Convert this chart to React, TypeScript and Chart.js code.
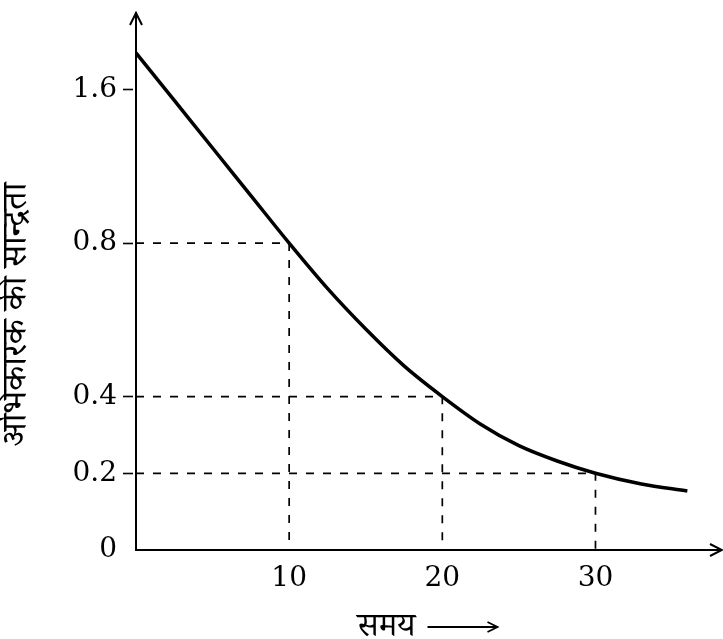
import React, { useEffect, useRef } from 'react';
import { Chart, registerables } from 'chart.js';

Chart.register(...registerables);

// time (x) values and reactant concentration (in y-axis units; labels below)
const timeValues = [0, 2.5, 5, 7.5, 10, 12.5, 15, 17.5, 20, 22.5, 25, 27.5, 30, 33, 36];
const concentrationLevels = [6.48, 5.86, 5.24, 4.62, 4.0, 3.41, 2.88, 2.4, 2.0, 1.64, 1.36, 1.16, 1.0, 0.86, 0.77];

// dashed guide marks
const markTimes = [10, 20, 30];
const markLevels = [4, 2, 1];

// ticks
const xTickValues = [10, 20, 30];
const yTickPositions = [0, 1, 2, 4, 6];
const yTickLabels = ['0', '0.2', '0.4', '0.8', '1.6'];

const yTitle = 'अभिकारक की सान्द्रता';
const xTitle = 'समय';

const DEVA = '"Noto Serif Devanagari", "Noto Sans Devanagari", "Lohit Devanagari", "FreeSerif", serif';
const NUM_FONT = '"DejaVu Serif", serif';

const decorPlugin = {
  id: 'decor',
  afterDraw(chart: any) {
    const { ctx, chartArea: a } = chart;
    ctx.save();
    ctx.strokeStyle = '#000';
    ctx.lineWidth = 2;
    ctx.lineCap = 'butt';
    ctx.lineJoin = 'miter';
    const x0 = a.left;
    const y0 = a.bottom;
    // y arrow head
    ctx.beginPath();
    ctx.moveTo(x0 - 6, a.top + 12);
    ctx.lineTo(x0, a.top);
    ctx.lineTo(x0 + 6, a.top + 12);
    ctx.stroke();
    // x axis extension + arrow head
    const tipX = chart.width - 1;
    ctx.beginPath();
    ctx.moveTo(a.right, y0);
    ctx.lineTo(tipX, y0);
    ctx.stroke();
    ctx.beginPath();
    ctx.moveTo(tipX - 12, y0 - 6);
    ctx.lineTo(tipX, y0);
    ctx.lineTo(tipX - 12, y0 + 6);
    ctx.stroke();

    // y title
    ctx.fillStyle = '#000';
    ctx.save();
    ctx.translate(a.left - 113, (a.top + a.bottom) / 2 + 33);
    ctx.rotate(-Math.PI / 2);
    ctx.font = `35px ${DEVA}`;
    ctx.textAlign = 'center';
    ctx.textBaseline = 'middle';
    ctx.fillText(yTitle, 0, 0);
    ctx.restore();

    // x title with arrow
    const cx = (a.left + chart.width) / 2;
    const ty = 627;
    ctx.font = `33px ${DEVA}`;
    ctx.textAlign = 'right';
    ctx.textBaseline = 'alphabetic';
    ctx.fillText(xTitle, cx - 14, 636);
    ctx.lineWidth = 1.8;
    ctx.beginPath();
    ctx.moveTo(cx - 2, ty);
    ctx.lineTo(cx + 68, ty);
    ctx.stroke();
    ctx.beginPath();
    ctx.moveTo(cx + 58, ty - 5);
    ctx.lineTo(cx + 68, ty);
    ctx.lineTo(cx + 58, ty + 5);
    ctx.stroke();
    ctx.restore();
  },
};

export default function App() {
  const ref = useRef<HTMLCanvasElement | null>(null);

  useEffect(() => {
    if (!ref.current) return;
    const curve = timeValues.map((t, i) => ({ x: t, y: concentrationLevels[i] }));
    const guides = markTimes.map((t, i) => ({
      data: [
        { x: 0, y: markLevels[i] },
        { x: t, y: markLevels[i] },
        { x: t, y: 0 },
      ],
      borderColor: '#000',
      borderWidth: 1.7,
      borderDash: [8, 9],
      pointRadius: 0,
      tension: 0,
      fill: false,
    }));

    const chart = new Chart(ref.current, {
      type: 'line',
      data: {
        datasets: [
          ...guides,
          {
            data: curve,
            borderColor: '#000',
            borderWidth: 3.5,
            pointRadius: 0,
            cubicInterpolationMode: 'monotone',
            fill: false,
          },
        ],
      },
      options: {
        animation: false,
        responsive: false,
        events: [],
        layout: { padding: { top: 13, right: 5, left: 0, bottom: 0 } },
        plugins: { legend: { display: false }, tooltip: { enabled: false }, title: { display: false } },
        scales: {
          x: {
            type: 'linear',
            min: 0,
            max: 38,
            afterBuildTicks: (s: any) => {
              s.ticks = xTickValues.map((v) => ({ value: v }));
            },
            afterFit: (s: any) => {
              s.height = 89;
              s.paddingLeft = 0;
              s.paddingRight = 0;
            },
            grid: { drawOnChartArea: false, drawTicks: true, tickLength: 0, color: 'transparent' },
            border: { display: true, color: '#000', width: 2 },
            ticks: {
              color: '#000',
              font: { family: NUM_FONT, size: 28 },
              padding: 12,
              maxRotation: 0,
              autoSkip: false,
            },
          },
          y: {
            type: 'linear',
            min: 0,
            max: 7,
            afterBuildTicks: (s: any) => {
              s.ticks = yTickPositions.map((v) => ({ value: v }));
            },
            afterFit: (s: any) => {
              s.width = 136;
              s.paddingTop = 0;
              s.paddingBottom = 0;
            },
            grid: {
              drawOnChartArea: false,
              drawTicks: true,
              tickLength: 13,
              tickBorderDash: [10, 30],
              tickWidth: 1.6,
              tickColor: (c: any) => (c.tick && c.tick.value === 0 ? 'transparent' : '#000'),
            },
            border: { display: true, color: '#000', width: 2 },
            ticks: {
              color: '#000',
              font: { family: NUM_FONT, size: 28 },
              padding: 6,
              autoSkip: false,
              callback: (v: any) => {
                const i = yTickPositions.indexOf(Number(v));
                return i >= 0 ? yTickLabels[i] : '';
              },
            },
          },
        },
      },
      plugins: [decorPlugin],
    } as any);
    return () => chart.destroy();
  }, []);

  return (
    <div style={{ position: 'absolute', left: 0, top: 0, width: 723, height: 639, background: '#fff' }}>
      <canvas ref={ref} width={723} height={639} style={{ display: 'block' }} />
    </div>
  );
}
